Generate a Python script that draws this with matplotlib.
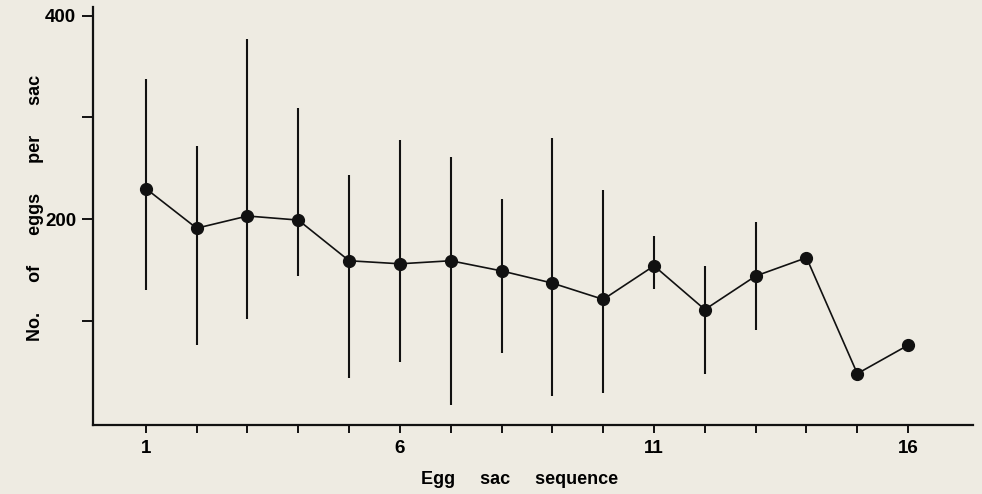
import numpy as np
import matplotlib.pyplot as plt

# Egg sac sequence data
seq = [1, 2, 3, 4, 5, 6, 7, 8, 9, 10, 11, 12, 13, 14, 15, 16]
eggs = [230, 191, 203, 199, 159, 156, 159, 149, 137, 121, 154, 111, 144, 162, 48, 76]
upper = [338, 272, 377, 309, 243, 278, 261, 220, 280, 229, 183, 154, 197, np.nan, np.nan, np.nan]
lower = [130, 76, 102, 144, 44, 59, 17, 68, 26, 29, 131, 48, 91, np.nan, np.nan, np.nan]

x_ticks = seq
x_labels = ['1', '', '', '', '', '6', '', '', '', '', '11', '', '', '', '', '16']
y_ticks = [100, 200, 300, 400]
y_labels = ['', '200', '', '400']

bg = '#eeebe2'
ink = '#111111'

plt.rcParams['font.family'] = ['Liberation Sans', 'DejaVu Sans']

fig = plt.figure(figsize=(9.82, 4.94), dpi=100, facecolor=bg)
ax = fig.add_axes([0.0947, 0.1397, 0.8958, 0.8461])
ax.set_facecolor(bg)

# error bars as plain vertical lines, no caps
ax.vlines(seq, lower, upper, color=ink, lw=1.5)
ax.plot(seq, eggs, color=ink, lw=1.2, marker='o', ms=8.5, mfc=ink, mec=ink)

ax.set_xlim(-0.04, 17.27)
ax.set_ylim(-2.5, 408.5)

for s in ['top', 'right']:
    ax.spines[s].set_visible(False)
for s in ['left', 'bottom']:
    ax.spines[s].set_color(ink)
    ax.spines[s].set_linewidth(1.6)

ax.set_xticks(x_ticks)
ax.set_xticklabels(x_labels, fontsize=13.5, fontweight='bold')
ax.set_yticks(y_ticks)
ax.set_yticklabels(y_labels, fontsize=13.5, fontweight='bold')
ax.tick_params(axis='x', direction='out', length=6, width=1.4, color=ink, pad=5)
ax.tick_params(axis='y', direction='out', length=8, width=1.4, color=ink, pad=4)

ax.set_xlabel('Egg     sac     sequence', fontsize=13, fontweight='bold')
ax.xaxis.set_label_coords(0.485, -0.11)
ax.set_ylabel('No.      of      eggs      per      sac', fontsize=13, fontweight='bold')
ax.yaxis.set_label_coords(-0.056, 0.52)

fig.savefig('out.png', dpi=100, facecolor=bg)
